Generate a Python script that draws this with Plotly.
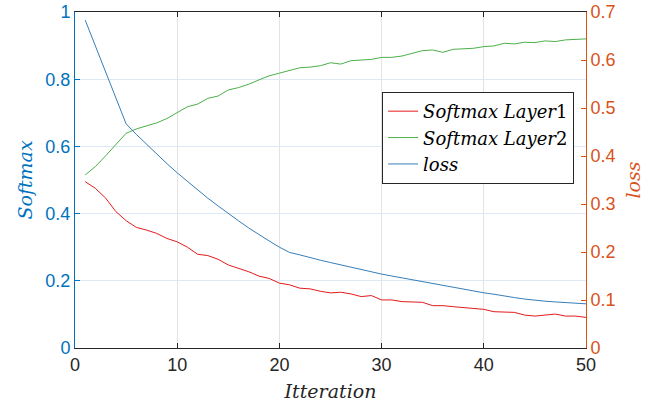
import plotly.graph_objects as go

iterations = list(range(1, 51))

softmax_layer1 = [0.495, 0.475, 0.446, 0.406, 0.379, 0.359, 0.351, 0.341, 0.326, 0.316,
                  0.300, 0.279, 0.275, 0.264, 0.247, 0.237, 0.227, 0.214, 0.207, 0.193,
                  0.188, 0.178, 0.176, 0.169, 0.164, 0.166, 0.161, 0.153, 0.156, 0.143,
                  0.143, 0.138, 0.138, 0.136, 0.126, 0.126, 0.123, 0.121, 0.119, 0.115,
                  0.108, 0.108, 0.106, 0.098, 0.095, 0.098, 0.101, 0.095, 0.095, 0.091]

softmax_layer2 = [0.515, 0.540, 0.572, 0.606, 0.639, 0.652, 0.662, 0.670, 0.683, 0.700,
                  0.718, 0.726, 0.743, 0.750, 0.768, 0.775, 0.785, 0.798, 0.810, 0.818,
                  0.826, 0.834, 0.836, 0.840, 0.849, 0.845, 0.855, 0.857, 0.859, 0.865,
                  0.865, 0.869, 0.878, 0.885, 0.887, 0.880, 0.889, 0.890, 0.892, 0.897,
                  0.899, 0.907, 0.905, 0.910, 0.909, 0.914, 0.912, 0.917, 0.919, 0.920]

loss = [0.683, 0.629, 0.575, 0.521, 0.467, 0.445, 0.424, 0.404, 0.384, 0.365,
        0.347, 0.329, 0.312, 0.296, 0.280, 0.265, 0.250, 0.236, 0.223, 0.210,
        0.199, 0.194, 0.188, 0.183, 0.178, 0.173, 0.168, 0.163, 0.159, 0.154,
        0.150, 0.146, 0.142, 0.138, 0.134, 0.130, 0.127, 0.123, 0.119, 0.115,
        0.112, 0.108, 0.105, 0.102, 0.099, 0.0975, 0.096, 0.0945, 0.093, 0.092]

x_ticks = [0, 10, 20, 30, 40, 50]
left_ticks = [0, 0.2, 0.4, 0.6, 0.8, 1]
left_tick_text = ["0", "0.2", "0.4", "0.6", "0.8", "1"]
right_ticks = [0, 0.1, 0.2, 0.3, 0.4, 0.5, 0.6, 0.7]
right_tick_text = ["0", "0.1", "0.2", "0.3", "0.4", "0.5", "0.6", "0.7"]

BLUE_AX = "#0072BD"
ORANGE_AX = "#D95319"
SERIF = "DejaVu Serif, Liberation Serif, serif"
SANS = "Liberation Sans, Arial, sans-serif"

fig = go.Figure()
fig.add_trace(go.Scatter(x=iterations, y=softmax_layer1, mode="lines",
                         name="<i>Softmax Layer</i>1",
                         line=dict(color="#E41A1C", width=1)))
fig.add_trace(go.Scatter(x=iterations, y=softmax_layer2, mode="lines",
                         name="<i>Softmax Layer</i>2",
                         line=dict(color="#4DAF4A", width=1)))
fig.add_trace(go.Scatter(x=iterations, y=loss, mode="lines", yaxis="y2",
                         name="<i>loss</i>",
                         line=dict(color="#377EB8", width=1)))

fig.update_layout(
    width=659, height=405,
    margin=dict(l=75, r=73, t=12, b=57, autoexpand=False),
    paper_bgcolor="white", plot_bgcolor="white",
    showlegend=True,
    legend=dict(x=0.601, y=0.762, xanchor="left", yanchor="top",
                bgcolor="white", bordercolor="#262626", borderwidth=1,
                font=dict(family=SERIF, size=18, color="black"),
                tracegroupgap=0, itemwidth=30),
    xaxis=dict(range=[0, 50], tickvals=x_ticks, ticktext=[str(v) for v in x_ticks],
               automargin=False,
               ticks="inside", ticklen=5, tickcolor="#262626",
               showline=True, linecolor="#262626", linewidth=1, mirror="ticks",
               showgrid=True, gridcolor="#E3E3E3", zeroline=False,
               tickfont=dict(family=SANS, size=18, color="#262626"),
               title=dict(text="<i>Itteration</i>", font=dict(family=SERIF, size=19, color="#262626"),
                          standoff=11)),
    yaxis=dict(range=[0, 1], tickvals=left_ticks, ticktext=left_tick_text,
               automargin=False,
               ticks="inside", ticklen=5, tickcolor=BLUE_AX,
               showline=True, linecolor=BLUE_AX, linewidth=1,
               showgrid=True, gridcolor="#DDE9F4", zeroline=False,
               tickfont=dict(family=SANS, size=18, color=BLUE_AX),
               title=dict(text="<i>Softmax</i>", font=dict(family=SERIF, size=19, color=BLUE_AX),
                          standoff=7)),
    yaxis2=dict(range=[0, 0.7], tickvals=right_ticks, ticktext=right_tick_text,
                automargin=False,
                overlaying="y", side="right",
                ticks="inside", ticklen=5, tickcolor=ORANGE_AX,
                showline=True, linecolor=ORANGE_AX, linewidth=1,
                showgrid=False, zeroline=False,
                tickfont=dict(family=SANS, size=18, color=ORANGE_AX),
                title=dict(text="<i>loss</i>", font=dict(family=SERIF, size=19, color=ORANGE_AX),
                           standoff=12)),
)

fig.write_html("out.html")
